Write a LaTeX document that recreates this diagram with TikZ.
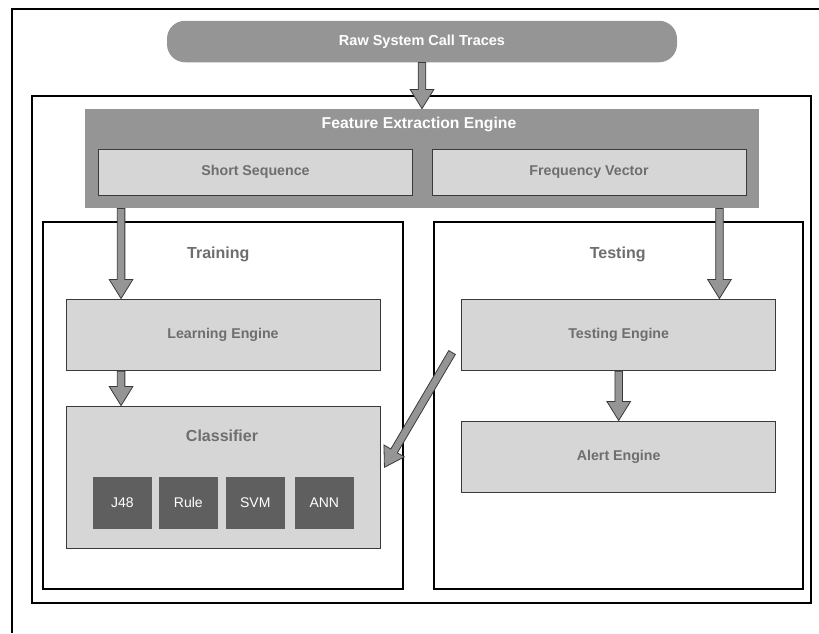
\documentclass[tikz,border=0pt]{standalone}
\usepackage{fontspec}
\setmainfont{Liberation Sans}
\usetikzlibrary{calc}

\definecolor{midgray}{HTML}{959595}
\definecolor{lightfill}{HTML}{D6D6D6}
\definecolor{darkfill}{HTML}{5F5F5F}
\definecolor{labelgray}{HTML}{6E6E6E}
\definecolor{edgegray}{HTML}{3A3A3A}

\tikzset{
  frame/.style={draw=black, line width=2.2pt},
  panel/.style={frame, fill=white, inner sep=0pt, minimum height=367pt},
  pill/.style={fill=midgray, rounded corners=18pt, inner sep=0pt,
    minimum width=510pt, minimum height=41.5pt, text=white,
    font=\bfseries\fontsize{14.5}{17}\selectfont},
  stagebox/.style={fill=lightfill, draw=edgegray, line width=0.9pt, inner sep=0pt,
    minimum width=314pt, minimum height=71.7pt, text=labelgray,
    font=\bfseries\fontsize{14.2}{17}\selectfont},
  featbox/.style={stagebox, minimum height=46.7pt},
  algbox/.style={fill=darkfill, inner sep=0pt, minimum width=58.7pt,
    minimum height=51.7pt, text=white, font=\fontsize{14}{17}\selectfont},
  paneltitle/.style={text=labelgray, inner sep=0pt,
    font=\bfseries\fontsize{16}{19}\selectfont},
  blockarrowstyle/.style={draw=edgegray, fill=midgray, line width=0.8pt, line join=miter},
}

% Wide gray arrow with an outlined shaft and triangular head, from #1 to #2
\newcommand\blockarrow[2]{%
  \path let \p1=(#1), \p2=(#2),
      \n1={atan2(\y2-\y1,\x2-\x1)},
      \n2={veclen(\x2-\x1,\y2-\y1)},
      \n3={veclen(\x2-\x1,\y2-\y1)-19} in
    [blockarrowstyle, shift={(\p1)}, rotate=\n1]
    (0,-3.8) -- (\n3,-3.8) -- (\n3,-11.8) -- (\n2,0) -- (\n3,11.8)
    -- (\n3,3.8) -- (0,3.8) -- cycle;
}

\begin{document}
\begin{tikzpicture}[x=1pt, y=-1pt]
\useasboundingbox (0,0) rectangle (819,633);

% outer page frame (only its top and left sides fall inside the picture)
\draw[frame] (12,633) -- (12,9) -- (819,9);

% source of traces
\node[pill] (raw) at (422,41.5) {Raw System Call Traces};

% main system frame
\draw[frame] (32,96) rectangle (811,603);

% feature extraction
\node[fill=midgray, inner sep=0pt, minimum width=674pt, minimum height=99.5pt]
  (fee) at (422,158.5) {};
\node[text=white, inner sep=0pt, font=\bfseries\fontsize{15.7}{19}\selectfont]
  (feetitle) at (419,124) {Feature Extraction Engine};
\node[featbox] (ss) at (255.5,172.3) {Short Sequence};
\node[featbox] (fv) at (589,172.3) {Frequency Vector};

% training and testing panels
\node[panel, minimum width=360pt] (trainbox) at (223,405.5) {};
\node[panel, minimum width=369pt] (testbox) at (618.5,405.5) {};
\node[paneltitle] (traintitle) at (218.3,254) {Training};
\node[paneltitle] (testtitle) at (617.7,254) {Testing};

% training side
\node[stagebox] (learn) at (223,334.8) {Learning Engine};
\node[stagebox, minimum height=142pt] (cls) at (223,477) {};
\node[text=labelgray, inner sep=0pt, font=\bfseries\fontsize{16}{19}\selectfont]
  (clstitle) at (222,435.7) {Classifier};
\node[algbox] (j48) at (122.3,502.8) {J48};
\node[algbox] (rule) at (188.3,502.8) {Rule};
\node[algbox] (svm) at (255.3,502.8) {SVM};
\node[algbox] (ann) at (324.3,502.8) {ANN};

% testing side
\node[stagebox] (test) at (618.7,334.8) {Testing Engine};
\node[stagebox] (alert) at (618.7,456.8) {Alert Engine};

% arrow end points
\coordinate (lx) at ($(learn.north west)+(55.5,0)$);
\coordinate (tx) at ($(test.north east)+(-56.7,0)$);
\coordinate (ax) at (test.south);
\coordinate (dtail) at ($(test.west)+(-9.2,17.7)$);
\coordinate (dtip) at ($(cls.east)+(4,-9.7)$);

% flow arrows
\blockarrow{raw.south}{fee.north}
\blockarrow{lx |- fee.south}{lx}
\blockarrow{tx |- fee.south}{tx}
\blockarrow{lx |- learn.south}{lx |- cls.north}
\blockarrow{ax}{ax |- alert.north}
\blockarrow{dtail}{dtip}
\end{tikzpicture}
\end{document}
